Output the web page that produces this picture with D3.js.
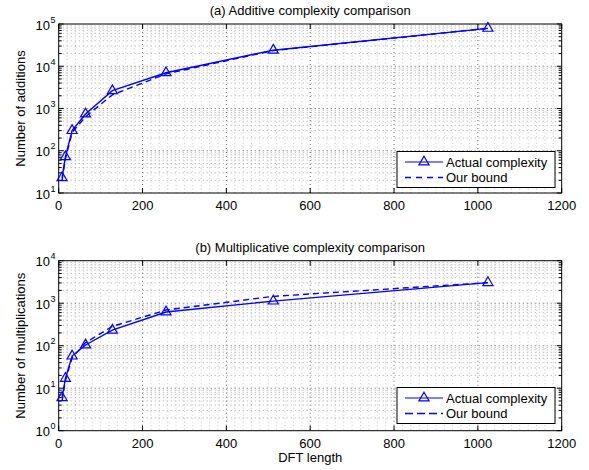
<!DOCTYPE html>
<html>
<head>
<meta charset="utf-8">
<script src="https://cdn.jsdelivr.net/npm/d3@7"></script>
<style>
body { margin: 0; background: #fff; }
text { font-family: "Liberation Sans", Arial, sans-serif; }
</style>
</head>
<body>
<svg id="chart"></svg>
<script>
// DFT lengths
var dftLength = [8, 16, 32, 64, 128, 256, 512, 1024];

// (a) additions
var addActual = [23, 72, 300, 740, 2640, 7000, 24000, 79000];
var addBound = [20, 64, 270, 640, 2100, 6600, 23500, 79000];

// (b) multiplications
var mulActual = [6, 17, 57, 104, 232, 620, 1120, 3050];
var mulBound = [5, 15, 52, 118, 285, 690, 1450, 3050];

var xTicks = [0, 200, 400, 600, 800, 1000, 1200];
var legendNames = ["Actual complexity", "Our bound"];

var svgWidth = 589, svgHeight = 470;
var svg = d3.select("#chart")
    .attr("width", svgWidth)
    .attr("height", svgHeight);

var left = 58.7, right = 561.7;
var blue = "#0000ff";

function drawPanel(opt) {
    var x = d3.scaleLinear().domain([0, 1200]).range([left, right]);
    var y = d3.scaleLog().domain(opt.yDomain).range([opt.bottom, opt.top]);
    var g = svg.append("g");

    // minor vertical grid every 20
    var minorX = d3.range(20, 1200, 20).filter(function(d) { return d % 200 != 0; });
    g.selectAll(".mgx").data(minorX).enter().append("line")
        .attr("x1", function(d) { return x(d); })
        .attr("x2", function(d) { return x(d); })
        .attr("y1", opt.top).attr("y2", opt.bottom)
        .attr("stroke", "#c0c0c0").attr("stroke-width", 0.8)
        .attr("stroke-dasharray", "1,2.5");

    // minor horizontal grid
    var minorY = [];
    var lo = Math.log10(opt.yDomain[0]), hi = Math.log10(opt.yDomain[1]);
    for (var e = lo; e < hi; e++) {
        for (var k = 2; k <= 9; k++) minorY.push(k * Math.pow(10, e));
    }
    g.selectAll(".mgy").data(minorY).enter().append("line")
        .attr("x1", left).attr("x2", right)
        .attr("y1", function(d) { return y(d); })
        .attr("y2", function(d) { return y(d); })
        .attr("stroke", "#909090").attr("stroke-width", 0.8)
        .attr("stroke-dasharray", "1,3");

    // major grid
    g.selectAll(".gx").data(xTicks.slice(1, -1)).enter().append("line")
        .attr("x1", function(d) { return x(d); })
        .attr("x2", function(d) { return x(d); })
        .attr("y1", opt.top).attr("y2", opt.bottom)
        .attr("stroke", "#444").attr("stroke-width", 0.8)
        .attr("stroke-dasharray", "1,3");
    var majorY = d3.range(lo, hi + 1).map(function(e) { return Math.pow(10, e); });
    g.selectAll(".gy").data(majorY.slice(1, -1)).enter().append("line")
        .attr("x1", left).attr("x2", right)
        .attr("y1", function(d) { return y(d); })
        .attr("y2", function(d) { return y(d); })
        .attr("stroke", "#444").attr("stroke-width", 0.8)
        .attr("stroke-dasharray", "1,3");

    // ticks (inside, both sides)
    g.selectAll(".tx").data(xTicks).enter().append("g").each(function(d) {
        d3.select(this).append("line")
            .attr("x1", x(d)).attr("x2", x(d))
            .attr("y1", opt.bottom).attr("y2", opt.bottom - 5)
            .attr("stroke", "#000");
        d3.select(this).append("line")
            .attr("x1", x(d)).attr("x2", x(d))
            .attr("y1", opt.top).attr("y2", opt.top + 5)
            .attr("stroke", "#000");
    });
    g.selectAll(".ty").data(majorY.concat(minorY)).enter().append("g").each(function(d) {
        var len = Math.abs(Math.log10(d) - Math.round(Math.log10(d))) < 1e-9 ? 5 : 3;
        d3.select(this).append("line")
            .attr("x1", left).attr("x2", left + len)
            .attr("y1", y(d)).attr("y2", y(d)).attr("stroke", "#000");
        d3.select(this).append("line")
            .attr("x1", right).attr("x2", right - len)
            .attr("y1", y(d)).attr("y2", y(d)).attr("stroke", "#000");
    });

    // tick labels
    g.selectAll(".lx").data(xTicks).enter().append("text")
        .attr("x", function(d) { return x(d); })
        .attr("y", opt.bottom + 17)
        .attr("text-anchor", "middle")
        .attr("font-size", "13px")
        .text(function(d) { return d; });
    g.selectAll(".ly").data(majorY).enter().append("text")
        .attr("x", 50)
        .attr("y", function(d) { return y(d) + 5.5; })
        .attr("text-anchor", "end")
        .attr("font-size", "13px")
        .text("10");
    g.selectAll(".le").data(majorY).enter().append("text")
        .attr("x", 50.5)
        .attr("y", function(d) { return y(d) - 1.5; })
        .attr("font-size", "9px")
        .text(function(d) { return Math.round(Math.log10(d)); });

    // box
    g.append("rect")
        .attr("x", left).attr("y", opt.top)
        .attr("width", right - left).attr("height", opt.bottom - opt.top)
        .attr("fill", "none").attr("stroke", "#000").attr("stroke-width", 1);

    // title & label
    g.append("text")
        .attr("x", (left + right) / 2).attr("y", opt.top - 9)
        .attr("text-anchor", "middle").attr("font-size", "13px")
        .text(opt.title);
    g.append("text")
        .attr("transform", "translate(25," + ((opt.top + opt.bottom) / 2) + ") rotate(-90)")
        .attr("text-anchor", "middle").attr("font-size", "13px")
        .text(opt.ylabel);

    // data lines
    var line = d3.line()
        .x(function(d, i) { return x(dftLength[i]); })
        .y(function(d) { return y(d); });
    g.append("path").datum(opt.bound)
        .attr("fill", "none").attr("stroke", blue).attr("stroke-width", 1.4)
        .attr("stroke-dasharray", "6,4").attr("d", line);
    g.append("path").datum(opt.actual)
        .attr("fill", "none").attr("stroke", blue).attr("stroke-width", 1.4)
        .attr("d", line);
    var tri = d3.symbol().type(d3.symbolTriangle).size(44);
    g.selectAll(".mk").data(opt.actual).enter().append("path")
        .attr("d", tri)
        .attr("transform", function(d, i) { return "translate(" + x(dftLength[i]) + "," + y(d) + ")"; })
        .attr("fill", "none").attr("stroke", blue).attr("stroke-width", 1.2);

    // legend
    var lg = g.append("g").attr("transform", "translate(397," + opt.legendY + ")");
    lg.append("rect").attr("width", 158).attr("height", 36)
        .attr("fill", "#fff").attr("stroke", "#000").attr("stroke-width", 1);
    lg.append("line").attr("x1", 8).attr("x2", 46).attr("y1", 10.5).attr("y2", 10.5)
        .attr("stroke", blue).attr("stroke-width", 1.2);
    lg.append("path").attr("d", tri)
        .attr("transform", "translate(27,10.5)")
        .attr("fill", "none").attr("stroke", blue).attr("stroke-width", 1.2);
    lg.append("line").attr("x1", 8).attr("x2", 46).attr("y1", 26).attr("y2", 26)
        .attr("stroke", blue).attr("stroke-width", 1.4)
        .attr("stroke-dasharray", opt.legendDash);
    lg.selectAll(".lt").data(legendNames).enter().append("text")
        .attr("x", 49).attr("y", function(d, i) { return 15 + i * 15.5; })
        .attr("font-size", "13px")
        .text(function(d) { return d; });
}

drawPanel({
    top: 24, bottom: 193, yDomain: [10, 1e5],
    title: "(a) Additive complexity comparison",
    ylabel: "Number of additions",
    actual: addActual, bound: addBound,
    legendY: 151.5, legendDash: "6,5"
});

drawPanel({
    top: 260.7, bottom: 430.7, yDomain: [1, 1e4],
    title: "(b) Multiplicative complexity comparison",
    ylabel: "Number of multiplications",
    actual: mulActual, bound: mulBound,
    legendY: 387.5, legendDash: "8,4"
});

svg.append("text")
    .attr("x", (left + right) / 2).attr("y", 462)
    .attr("text-anchor", "middle").attr("font-size", "13px")
    .text("DFT length");
</script>
</body>
</html>
